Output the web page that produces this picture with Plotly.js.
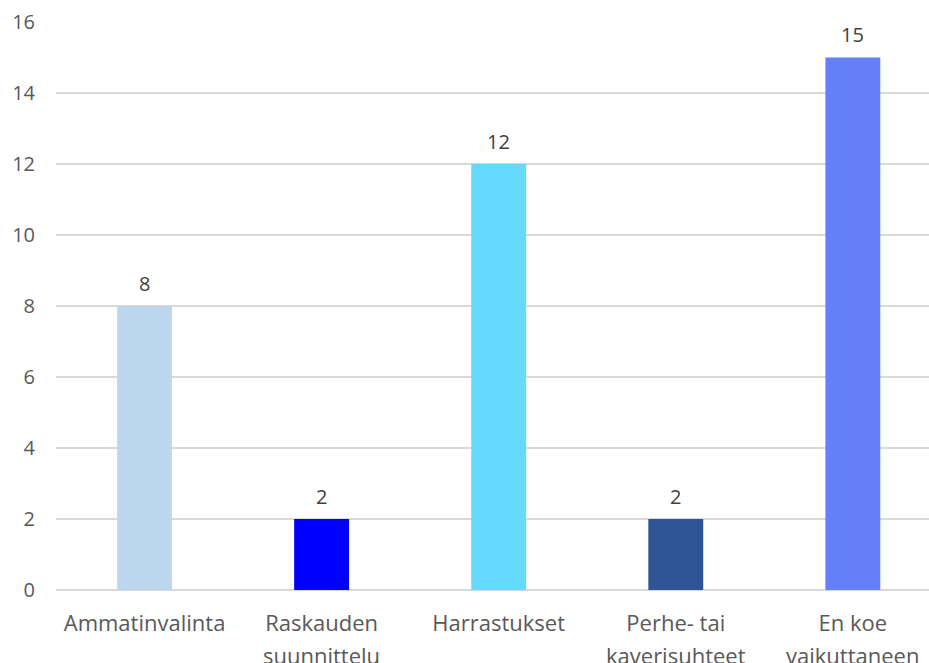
<!DOCTYPE html>
<html>
<head>
<meta charset="utf-8">
<script src="https://cdn.plot.ly/plotly-3.0.1.min.js"></script>
<style>html,body{margin:0;padding:0;background:#fff;overflow:hidden}#chart{width:929px;height:663px}</style>
</head>
<body>
<div id="chart"></div>
<script>
const categories = ["Ammatinvalinta", "Raskauden suunnittelu", "Harrastukset", "Perhe- tai kaverisuhteet", "En koe vaikuttaneen"];
const labelLine1 = ["Ammatinvalinta", "Raskauden", "Harrastukset", "Perhe- tai", "En koe"];
const labelLine2 = ["", "suunnittelu", "", "kaverisuhteet", "vaikuttaneen"];
const values = [8, 2, 12, 2, 15];
const barColors = ["#BDD7EE", "#0000FF", "#66D9FF", "#2F5597", "#647FF7"];
const yTicks = [0, 2, 4, 6, 8, 10, 12, 14, 16];

const fontFam = "Open Sans, sans-serif";
const trace = {
  type: "bar",
  x: categories,
  y: values,
  marker: {color: barColors, line: {width: 0}},
  width: 0.31,
  hoverinfo: "none"
};

const annotations = [];
categories.forEach((c, i) => {
  annotations.push({
    x: c, y: values[i], xref: "x", yref: "y",
    text: String(values[i]), showarrow: false,
    yanchor: "middle", yshift: 23,
    font: {family: fontFam, size: 20, color: "#404040"}
  });
  if (labelLine2[i]) {
    annotations.push({
      x: c, y: 0, xref: "x", yref: "y",
      text: labelLine2[i], showarrow: false,
      yanchor: "middle", yshift: -65,
      font: {family: fontFam, size: 22, color: "#595959"}
    });
  }
});

const layout = {
  width: 929, height: 663,
  margin: {l: 56, r: 0, t: 22, b: 73},
  paper_bgcolor: "#ffffff", plot_bgcolor: "#ffffff",
  showlegend: false,
  font: {family: fontFam, color: "#595959"},
  xaxis: {
    type: "category",
    categoryarray: categories,
    range: [-0.5, 4.43],
    tickvals: categories,
    ticktext: labelLine1,
    ticks: "",
    ticklabelstandoff: 18,
    tickfont: {family: fontFam, size: 22, color: "#595959"},
    showgrid: false, zeroline: false, showline: false
  },
  yaxis: {
    range: [0, 16],
    tickvals: yTicks,
    ticktext: yTicks.map(String),
    ticks: "",
    ticklabelstandoff: 20,
    tickfont: {family: fontFam, size: 20, color: "#595959"},
    showgrid: true, gridcolor: "#D9D9D9", gridwidth: 1.3,
    zeroline: true, zerolinecolor: "#D9D9D9", zerolinewidth: 1.3,
    showline: false
  },
  annotations: annotations
};

Plotly.newPlot("chart", [trace], layout, {displayModeBar: false, staticPlot: true});
</script>
</body>
</html>
